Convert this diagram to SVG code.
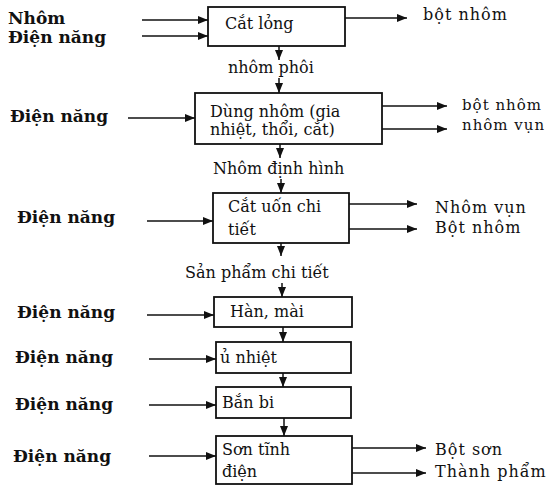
<svg xmlns="http://www.w3.org/2000/svg" width="559" height="487" viewBox="0 0 559 487">
<style>
text{font-family:"DejaVu Serif","Liberation Serif",serif;font-size:16px;fill:#111}
.b{font-weight:bold;font-size:17px}
.r{letter-spacing:1px}
.s{font-size:15px}
.box{fill:none;stroke:#111;stroke-width:1.8}
.ln{stroke:#111;stroke-width:1.5;fill:none;marker-end:url(#ah)}
</style>
<defs>
<marker id="ah" markerUnits="userSpaceOnUse" markerWidth="11" markerHeight="8" refX="10" refY="4" orient="auto">
<path d="M0,0 L10,4 L0,8 Z" fill="#111"/>
</marker>
</defs>
<rect width="559" height="487" fill="#fff"/>
<g id="inputs">
<text class="b" x="8" y="24">Nhôm</text>
<text class="b" x="8" y="43">Điện năng</text>
<text class="b" x="10" y="122">Điện năng</text>
<text class="b" x="17" y="223">Điện năng</text>
<text class="b" x="17" y="318">Điện năng</text>
<text class="b" x="15" y="363">Điện năng</text>
<text class="b" x="15" y="410">Điện năng</text>
<text class="b" x="13" y="462">Điện năng</text>
</g>
<g id="n1"><rect class="box" x="208" y="7" width="137" height="39"/><text x="225" y="29">Cắt lỏng</text></g>
<g id="l1"><text x="228" y="73">nhôm phôi</text></g>
<g id="n2"><rect class="box" x="195" y="93" width="187" height="51"/><text x="210" y="117">Dùng nhôm (gia</text><text x="210" y="135">nhiệt, thổi, cắt)</text></g>
<g id="l2"><text x="213" y="174">Nhôm định hình</text></g>
<g id="n3"><rect class="box" x="213" y="193" width="136" height="50"/><text x="228" y="212">Cắt uốn chi</text><text x="228" y="235">tiết</text></g>
<g id="l3"><text x="185" y="278">Sản phẩm chi tiết</text></g>
<g id="n4"><rect class="box" x="214" y="297" width="138" height="30"/><text x="230" y="317">Hàn, mài</text></g>
<g id="n5"><rect class="box" x="216" y="342" width="135" height="31"/><text x="220" y="363">ủ nhiệt</text></g>
<g id="n6"><rect class="box" x="216" y="387" width="135" height="31"/><text x="222" y="408">Bắn bi</text></g>
<g id="n7"><rect class="box" x="216" y="436" width="136" height="48"/><text x="222" y="455">Sơn tĩnh</text><text x="222" y="477">điện</text></g>
<g id="outputs">
<text class="r" x="423" y="20">bột nhôm</text>
<text class="r s" x="462" y="110">bột nhôm</text>
<text class="r s" x="462" y="130">nhôm vụn</text>
<text class="r" x="435" y="213">Nhôm vụn</text>
<text class="r" x="435" y="233">Bột nhôm</text>
<text class="r" x="435" y="455">Bột sơn</text>
<text class="r" x="435" y="477">Thành phẩm</text>
</g>
<g id="connectors">
<line class="ln" x1="142" y1="20" x2="208" y2="20"/>
<line class="ln" x1="142" y1="36" x2="208" y2="36"/>
<line class="ln" x1="128" y1="118" x2="195" y2="118"/>
<line class="ln" x1="147" y1="221" x2="213" y2="221"/>
<line class="ln" x1="147" y1="315" x2="214" y2="315"/>
<line class="ln" x1="149" y1="359" x2="216" y2="359"/>
<line class="ln" x1="149" y1="405" x2="216" y2="405"/>
<line class="ln" x1="149" y1="456" x2="216" y2="456"/>
<line class="ln" x1="345" y1="18" x2="407" y2="18"/>
<line class="ln" x1="382" y1="106" x2="447" y2="106"/>
<line class="ln" x1="382" y1="129" x2="447" y2="129"/>
<line class="ln" x1="349" y1="204" x2="417" y2="204"/>
<line class="ln" x1="349" y1="229" x2="417" y2="229"/>
<line class="ln" x1="352" y1="448" x2="426" y2="448"/>
<line class="ln" x1="352" y1="473" x2="426" y2="473"/>
<line class="ln" x1="279" y1="46" x2="279" y2="60"/>
<line class="ln" x1="279" y1="78" x2="279" y2="93"/>
<line class="ln" x1="280" y1="144" x2="280" y2="158"/>
<line class="ln" x1="281" y1="179" x2="281" y2="193"/>
<line class="ln" x1="281" y1="243" x2="281" y2="256"/>
<line class="ln" x1="282" y1="283" x2="282" y2="297"/>
<line class="ln" x1="283" y1="327" x2="283" y2="342"/>
<line class="ln" x1="283" y1="373" x2="283" y2="387"/>
<line class="ln" x1="284" y1="418" x2="284" y2="436"/>
</g>
</svg>
